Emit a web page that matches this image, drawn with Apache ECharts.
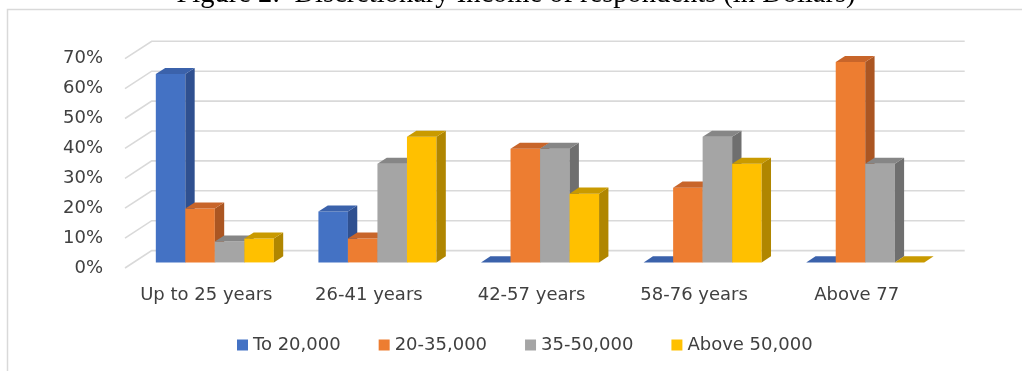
<!DOCTYPE html>
<html>
<head>
<meta charset="utf-8">
<script src="https://cdn.jsdelivr.net/npm/echarts@6/dist/echarts.min.js"></script>
<style>
  html, body { margin: 0; padding: 0; background: #ffffff; }
  #chart { width: 1022px; height: 371px; }
</style>
</head>
<body>
<div id="chart"></div>
<script>
// Age groups along the x axis
const categories = ['Up to 25 years', '26-41 years', '42-57 years', '58-76 years', 'Above 77'];

// Share of respondents (%) per discretionary income bracket
const to20000 = [63, 17, 0, 0, 0];
const from20to35000 = [18, 8, 38, 25, 67];
const from35to50000 = [7, 33, 38, 42, 33];
const above50000 = [8, 42, 23, 33, 0];

const seriesNames = ['To 20,000', '20-35,000', '35-50,000', 'Above 50,000'];

// Value axis ticks (%)
const yTicks = [0, 10, 20, 30, 40, 50, 60, 70];

// Face colours: front, right side, top
const palette = [
  { front: '#4472C4', side: '#2F5090', top: '#3B62AB' },
  { front: '#ED7D31', side: '#AB5622', top: '#C8652A' },
  { front: '#A5A5A5', side: '#6F6F6F', top: '#868686' },
  { front: '#FFC000', side: '#B08600', top: '#C99A00' }
];

// Oblique depth vector of the plot box (pixels) and where the bars sit inside it
const DEPTH = [26.7, -17.4];
const FRONT = 0.32;
const BACK = 0.67;
const BAR_FRAC = 0.1815;

const FONT = 'DejaVu Sans';

function wallRenderer(params, api) {
  const cs = params.coordSys;
  const y = api.coord([0, api.value(1)])[1];
  return {
    type: 'polyline',
    shape: {
      points: [
        [cs.x, y],
        [cs.x + DEPTH[0], y + DEPTH[1]],
        [cs.x + cs.width + DEPTH[0], y + DEPTH[1]]
      ]
    },
    style: { stroke: '#d9d9d9', lineWidth: 1.6, fill: null },
    silent: true
  };
}

function barRenderer(idx) {
  const col = palette[idx];
  return function (params, api) {
    const ci = api.value(0);
    const v = api.value(1);
    const base = api.coord([ci, 0]);
    const top = api.coord([ci, v]);
    const band = api.size([1, 0])[0];
    const bw = band * BAR_FRAC;
    const fx = DEPTH[0] * FRONT, fy = DEPTH[1] * FRONT;
    const dx = DEPTH[0] * (BACK - FRONT), dy = DEPTH[1] * (BACK - FRONT);
    const x0 = base[0] - 2 * bw + idx * bw + fx;
    const x1 = x0 + bw;
    const yb = base[1] + fy;
    const yt = top[1] + fy;
    const children = [];
    if (v > 0) {
      children.push({
        type: 'rect',
        shape: { x: x0, y: yt, width: bw, height: yb - yt },
        style: { fill: col.front }
      });
      children.push({
        type: 'polygon',
        shape: { points: [[x1, yt], [x1 + dx, yt + dy], [x1 + dx, yb + dy], [x1, yb]] },
        style: { fill: col.side }
      });
    }
    children.push({
      type: 'polygon',
      shape: { points: [[x0, yt], [x1, yt], [x1 + dx, yt + dy], [x0 + dx, yt + dy]] },
      style: { fill: col.top }
    });
    return { type: 'group', children: children };
  };
}

const valueSets = [to20000, from20to35000, from35to50000, above50000];

const barSeries = valueSets.map(function (vals, i) {
  return {
    type: 'custom',
    name: seriesNames[i],
    coordinateSystem: 'cartesian2d',
    renderItem: barRenderer(i),
    encode: { x: 0, y: 1 },
    itemStyle: { color: palette[i].front },
    data: vals.map(function (v, ci) { return [ci, v]; }),
    z: 3 + i,
    silent: true
  };
});

const chart = echarts.init(document.getElementById('chart'), null, { renderer: 'canvas' });

chart.setOption({
  animation: false,
  backgroundColor: '#ffffff',
  graphic: [
    {
      type: 'rect',
      shape: { x: 7.5, y: 9.5, width: 1100, height: 420 },
      style: { fill: null, stroke: '#d9d9d9', lineWidth: 1.5 },
      silent: true
    },
    {
      type: 'text',
      x: 516,
      y: -5.5,
      style: {
        text: 'Figure 2:  Discretionary Income of respondents (in Dollars)',
        font: '28.5px "Liberation Serif"',
        fill: '#000000',
        align: 'center',
        verticalAlign: 'middle'
      },
      silent: true
    }
  ],
  legend: {
    left: 232,
    top: 331,
    icon: 'rect',
    itemWidth: 11,
    itemHeight: 11,
    itemGap: 38,
    textStyle: { fontFamily: FONT, fontSize: 18, color: '#404040' },
    data: seriesNames
  },
  grid: {
    left: 125,
    right: 84,
    top: 58.7,
    bottom: 103,
    outerBoundsMode: 'none'
  },
  xAxis: {
    type: 'category',
    data: categories,
    axisLine: { show: false },
    axisTick: { show: false },
    splitLine: { show: false },
    axisLabel: { fontFamily: FONT, fontSize: 18, color: '#404040', margin: 18, interval: 0 }
  },
  yAxis: {
    type: 'value',
    min: 0,
    max: 70,
    interval: 10,
    axisLine: { show: false },
    axisTick: { show: false },
    splitLine: { show: false },
    axisLabel: {
      fontFamily: FONT, fontSize: 18, color: '#404040', margin: 22,
      padding: [6, 0, 0, 0],
      formatter: '{value}%'
    }
  },
  series: [
    {
      type: 'custom',
      name: 'walls',
      coordinateSystem: 'cartesian2d',
      renderItem: wallRenderer,
      encode: { x: 0, y: 1 },
      data: yTicks.map(function (t) { return [0, t]; }),
      z: 1,
      silent: true
    }
  ].concat(barSeries)
});
</script>
</body>
</html>
